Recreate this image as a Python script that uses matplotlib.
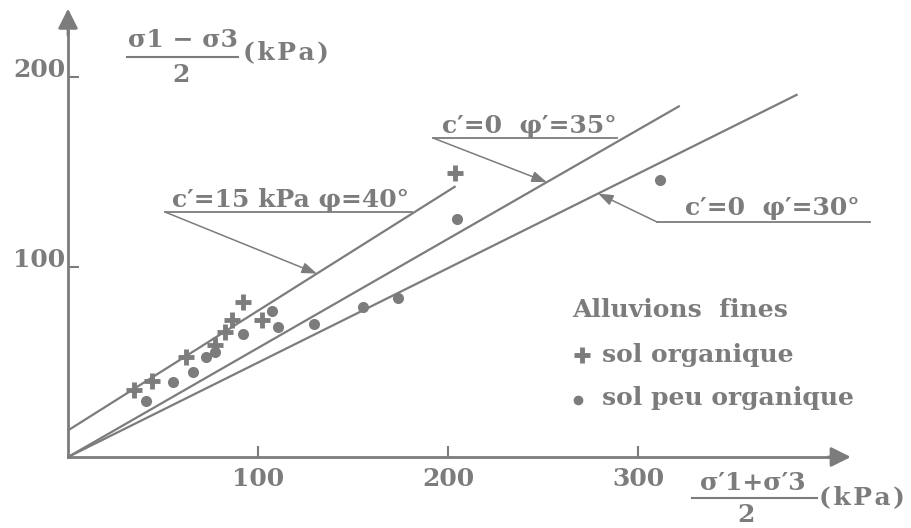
import matplotlib
matplotlib.use('Agg')
import matplotlib.pyplot as plt

# (sigma'1 + sigma'3)/2 and (sigma1 - sigma3)/2 in kPa
# sol organique (+)
org_s = [34.7, 44.2, 62.0, 77.4, 82.6, 86.3, 92.0, 102.0, 203.7]
org_t = [35.3, 40.0, 52.6, 59.0, 65.8, 72.0, 81.6, 72.0, 149.5]

# sol peu organique (dots)
peu_s = [41.0, 55.3, 65.8, 72.6, 77.4, 92.0, 107.4, 110.5, 129.5, 155.3, 173.7, 204.7, 311.6]
peu_t = [29.5, 39.5, 44.7, 52.6, 55.3, 64.7, 76.8, 68.4, 70.0, 79.0, 83.7, 125.3, 145.8]

# failure lines t = a + s * slope
line_labels = ["c′=15 kPa φ=40°", "c′=0  φ′=35°", "c′=0  φ′=30°"]
line_a = [14, 0, 0]
line_slope = [0.63, 0.574, 0.497]
line_end = [204, 322, 384]
arrow_s = [131, 252, 279]   # where each label arrow meets its line

xticks = [100, 200, 300]
yticks = [100, 200]

GRAY = '#7c7c7c'
FONT = 'DejaVu Serif'
KPA = '(\u200ak\u200aP\u200aa\u200a)'

# reference pixel -> data (origin at px 68,457, 1.9 px per kPa)
X0, Y0, K = 68, 457, 1.9


def d(xp, yp):
    return ((xp - X0) / K, (Y0 - yp) / K)


fig = plt.figure(figsize=(9.12, 5.28), dpi=100)
fig.patch.set_facecolor('white')
ax = fig.add_axes([0, 0, 1, 1])
ax.set_xlim(-X0 / K, (912 - X0) / K)
ax.set_ylim((Y0 - 528) / K, Y0 / K)
ax.set_facecolor('white')

# axes with arrows
for side in ['top', 'right']:
    ax.spines[side].set_visible(False)
ax.spines['left'].set_position(('data', 0))
ax.spines['bottom'].set_position(('data', 0))
ax.spines['left'].set_bounds(0, 224)
ax.spines['bottom'].set_bounds(0, 402)
for side in ['left', 'bottom']:
    ax.spines[side].set_color(GRAY)
    ax.spines[side].set_linewidth(2)
arrow_kw = dict(arrowstyle='-|>,head_length=0.8,head_width=0.4', color=GRAY,
                lw=2, mutation_scale=15, shrinkA=0, shrinkB=0)
ax.annotate('', xy=(0, 236), xytext=(0, 222), arrowprops=arrow_kw, annotation_clip=False)
ax.annotate('', xy=(412, 0), xytext=(400, 0), arrowprops=arrow_kw, annotation_clip=False)

ax.set_xticks(xticks)
ax.set_yticks(yticks)
ax.set_xticklabels([str(v) for v in xticks])
ax.set_yticklabels([str(v) for v in yticks])
ax.tick_params(direction='in', length=8, width=1.5, color=GRAY, labelcolor=GRAY,
               labelsize=18)
ax.tick_params(axis='x', pad=7)
ax.tick_params(axis='y', pad=2)
for lab in ax.get_xticklabels() + ax.get_yticklabels():
    lab.set_fontfamily(FONT)
    lab.set_fontweight('bold')
for lab in ax.get_yticklabels():
    lab.set_verticalalignment('baseline')

# failure lines
for a, m, end in zip(line_a, line_slope, line_end):
    ax.plot([0, end], [a, a + m * end], color=GRAY, lw=1.6, solid_capstyle='butt')

# data
ax.plot(org_s, org_t, linestyle='none', marker='+', ms=12, mew=3.5, color=GRAY)
ax.plot(peu_s, peu_t, linestyle='none', marker='o', ms=8, mew=0, color=GRAY)

# labels with underline and arrow
txt_kw = dict(color=GRAY, fontsize=18, fontweight='bold', family=FONT)
label_pos = [(172, 207, 165, 412, 212), (442, 133, 433, 617, 138), (685, 215, 657, 870, 222)]
for lab, (tx, ty, u0, u1, uy), a, m, s in zip(line_labels, label_pos, line_a, line_slope, arrow_s):
    ax.text(*d(tx, ty), lab, ha='left', va='baseline', **txt_kw)
    p0, p1 = d(u0, uy), d(u1, uy)
    ax.plot([p0[0], p1[0]], [p0[1], p1[1]], color=GRAY, lw=1.3)
    ax.annotate('', xy=(s, a + m * s), xytext=p0,
                arrowprops=dict(arrowstyle='-|>,head_length=0.6,head_width=0.22',
                                color=GRAY, lw=1.1, mutation_scale=15,
                                shrinkA=0, shrinkB=0))

# axis titles drawn as fractions
ax.text(*d(183, 40), 'σ1 − σ3', ha='center', va='center', **txt_kw)
f0, f1 = d(127, 57), d(238, 57)
ax.plot([f0[0], f1[0]], [f0[1], f1[1]], color=GRAY, lw=1.5)
ax.text(*d(181, 75), '2', ha='center', va='center', **txt_kw)
ax.text(*d(243, 52), KPA, ha='left', va='center', **txt_kw)

ax.text(*d(753, 483), 'σ′1+σ′3', ha='center', va='center', **txt_kw)
g0, g1 = d(692, 498), d(817, 498)
ax.plot([g0[0], g1[0]], [g0[1], g1[1]], color=GRAY, lw=1.5)
ax.text(*d(746, 515), '2', ha='center', va='center', **txt_kw)
ax.text(*d(819, 497), KPA, ha='left', va='center', **txt_kw)

# legend
ax.text(*d(572, 310), 'Alluvions  fines', ha='left', va='center', **txt_kw)
ax.plot(*d(582, 355), marker='+', ms=11, mew=3.5, color=GRAY)
ax.text(*d(602, 355), 'sol organique', ha='left', va='center', **txt_kw)
ax.plot(*d(578, 400), marker='o', ms=7, mew=0, color=GRAY)
ax.text(*d(602, 398), 'sol peu organique', ha='left', va='center', **txt_kw)

fig.savefig('out.png', dpi=100, facecolor='white')
